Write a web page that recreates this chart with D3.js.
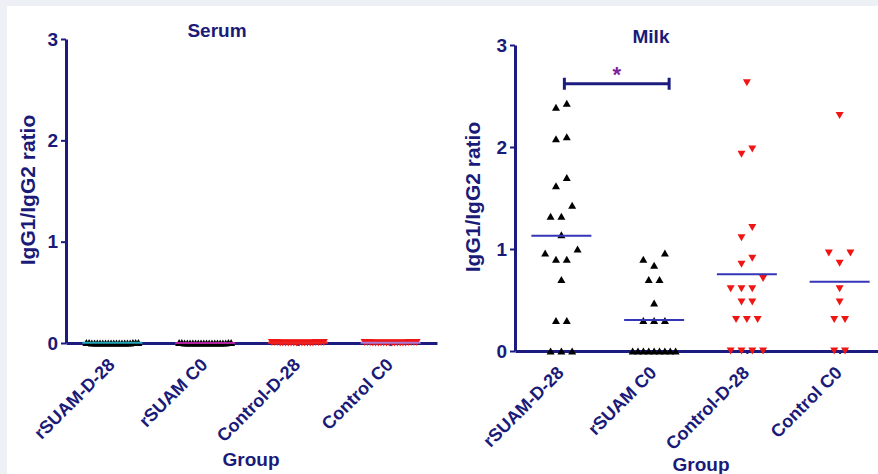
<!DOCTYPE html>
<html>
<head>
<meta charset="utf-8">
<script src="https://cdn.jsdelivr.net/npm/d3@7"></script>
<style>
body { margin: 0; background: #edf0f5; }
text { font-family: "Liberation Sans", Arial, sans-serif; font-weight: bold; fill: #1a1a78; }
</style>
</head>
<body>
<div id="Chart"></div>
<script>
var w = 878;
var h = 474;

var groups = ["rSUAM-D-28", "rSUAM C0", "Control-D-28", "Control C0"];
var yTicks = [0, 1, 2, 3];

// milk IgG1/IgG2 ratios
var milkRsuamD28 = [2.43, 2.39, 2.10, 2.08, 1.70, 1.62, 1.43, 1.32, 1.32, 1.14, 1.00, 0.96, 0.90, 0.90, 0.70, 0.30, 0.30, 0, 0, 0];
var milkRsuamC0 = [0.96, 0.90, 0.84, 0.70, 0.70, 0.47, 0.30, 0.30, 0.30, 0, 0, 0, 0, 0, 0, 0, 0, 0];
var milkControlD28 = [2.63, 1.98, 1.93, 1.21, 1.11, 0.91, 0.85, 0.71, 0.61, 0.61, 0.61, 0.48, 0.48, 0.31, 0.31, 0.31, 0, 0, 0, 0];
var milkControlC0 = [2.31, 0.96, 0.96, 0.86, 0.61, 0.48, 0.31, 0.31, 0, 0];

// serum ratios are all close to zero
var serumRsuamD28 = [0, 0, 0.005, 0, 0, 0.005, 0, 0, 0, 0.005, 0, 0, 0, 0.005, 0, 0, 0, 0, 0.005, 0];
var serumRsuamC0 = [0, 0.005, 0, 0, 0, 0, 0.005, 0, 0, 0, 0.005, 0, 0, 0, 0, 0.005, 0, 0, 0, 0];
var serumControlD28 = [0.005, 0, 0, 0.005, 0, 0, 0.005, 0, 0, 0.005, 0, 0, 0.005, 0, 0, 0.005, 0, 0, 0.005, 0];
var serumControlC0 = [0, 0.005, 0, 0, 0.005, 0, 0, 0.005, 0, 0, 0.005, 0, 0, 0.005, 0, 0, 0.005, 0, 0, 0.005];

var sigPair = ["rSUAM-D-28", "rSUAM C0"];
var sigLevel = 2.62;
var sigLabel = "*";

var navy = "#1c1c80";
var markColors = ["#000000", "#000000", "#f01515", "#f01515"];
var pointDown = [false, false, true, true];

var panels = [
    {title: "Serum", data: [serumRsuamD28, serumRsuamC0, serumControlD28, serumControlC0],
     meanColors: ["#22a9bb", "#b0209f", "#ee2222", "#a67ad6"],
     px: 7, py: 6, left: 66, right: 437, bottom: 343, top: 39,
     swarmWidth: 52, titleX: 217, titleY: 37, yLabelX: 35, groupX: 251, groupY: 466},
    {title: "Milk", data: [milkRsuamD28, milkRsuamC0, milkControlD28, milkControlC0],
     meanColors: ["#3535b8", "#3535b8", "#3535b8", "#3535b8"],
     px: 451, py: 11, left: 515, right: 886, bottom: 351, top: 45,
     swarmWidth: 43, titleX: 651, titleY: 43, yLabelX: 480, groupX: 701, groupY: 471, sig: true}
];

// triangle centred on its bounding box, like the prism symbols
var boxTriangle = {
    draw: function(context, size) {
        var tw = Math.sqrt(size / 0.4375);
        var th = tw * 0.875;
        context.moveTo(0, -th / 2);
        context.lineTo(tw / 2, th / 2);
        context.lineTo(-tw / 2, th / 2);
        context.closePath();
    }
};

// column scatter layout: points that sit close together share a row
function swarm(values, y, step, maxWidth)
{
    var pts = values.map(function(v){ return {v: v, py: y(v)}; })
        .sort(function(a, b){ return a.py - b.py; });
    var rows = [], cur = [];
    pts.forEach(function(p){
        if (cur.length && p.py - cur[cur.length - 1].py >= 11.5) { rows.push(cur); cur = []; }
        cur.push(p);
    });
    if (cur.length) rows.push(cur);

    rows.forEach(function(row){
        var n = row.length;
        var s = n > 1 ? Math.min(step, maxWidth / (n - 1)) : 0;
        var slots = d3.range(n).map(function(i){ return (i - (n - 1) / 2) * s; });
        slots.sort(function(a, b){ return Math.abs(b) - Math.abs(a) || b - a; });
        row.sort(function(a, b){ return b.v - a.v; });
        row.forEach(function(p, i){ p.dx = slots[i]; });
    });
    return pts;
}

function drawPanel(svg, p)
{
    svg.append("rect")
        .attr("x", p.px).attr("y", p.py)
        .attr("width", w - p.px + 10).attr("height", h)
        .attr("fill", "#ffffff");

    var g = svg.append("g");

    var x = d3.scalePoint().domain(groups).range([p.left, p.right]).padding(0.5);
    var y = d3.scaleLinear().domain([0, 3]).range([p.bottom, p.top]);

    // y axis
    var yAxis = g.append("g")
        .attr("transform", "translate(" + p.left + ",0)")
        .call(d3.axisLeft(y).tickValues(yTicks).tickFormat(d3.format("d"))
            .tickSize(5).tickSizeOuter(0).tickPadding(3));
    yAxis.select(".domain").attr("stroke", navy).attr("stroke-width", 3);
    yAxis.selectAll(".tick line").attr("stroke", navy).attr("stroke-width", 2);
    yAxis.selectAll(".tick text")
        .attr("font-size", 19).attr("fill", navy)
        .style("font-family", "'Liberation Sans', Arial, sans-serif").style("font-weight", "bold");

    // x axis
    var xAxis = g.append("g")
        .attr("transform", "translate(0," + p.bottom + ")")
        .call(d3.axisBottom(x).tickSize(3).tickSizeOuter(0).tickFormat(""));
    xAxis.select(".domain").attr("stroke", navy).attr("stroke-width", 3);
    xAxis.selectAll(".tick line").attr("stroke", navy).attr("stroke-width", 2);
    xAxis.selectAll(".tick").append("text")
        .attr("transform", "translate(3,23) rotate(-45)")
        .attr("text-anchor", "end")
        .attr("font-size", 18)
        .text(function(d){ return d; });

    // points
    var tri = d3.symbol().type(boxTriangle).size(28);
    groups.forEach(function(name, i){
        var cx = x(name);
        var pts = swarm(p.data[i], y, 10.8, p.swarmWidth);
        g.append("g").selectAll("path")
            .data(pts)
            .enter()
            .append("path")
            .attr("d", tri)
            .attr("fill", markColors[i])
            .attr("transform", function(d){
                return "translate(" + (cx + d.dx) + "," + d.py + ")" + (pointDown[i] ? " rotate(180)" : "");
            });

        var m = d3.mean(p.data[i]);
        g.append("line")
            .attr("x1", cx - 30).attr("x2", cx + 30)
            .attr("y1", y(m)).attr("y2", y(m))
            .attr("stroke", p.meanColors[i])
            .attr("stroke-width", 2);
    });

    // titles
    g.append("text")
        .attr("x", p.titleX).attr("y", p.titleY)
        .attr("text-anchor", "middle").attr("font-size", 19)
        .text(p.title);
    g.append("text")
        .attr("transform", "translate(" + p.yLabelX + "," + ((p.top + p.bottom) / 2 - 1) + ") rotate(-90)")
        .attr("text-anchor", "middle").attr("font-size", 21)
        .text("IgG1/IgG2 ratio");
    g.append("text")
        .attr("x", p.groupX).attr("y", p.groupY)
        .attr("text-anchor", "middle").attr("font-size", 19)
        .text("Group");

    if (p.sig) {
        var x1 = x(sigPair[0]) + 3;
        var x2 = x(sigPair[1]) + 15;
        var sy = y(sigLevel);
        var br = g.append("g").attr("stroke", navy).attr("stroke-width", 3);
        br.append("line").attr("x1", x1).attr("x2", x2).attr("y1", sy).attr("y2", sy);
        br.append("line").attr("x1", x1).attr("x2", x1).attr("y1", sy - 6).attr("y2", sy + 6);
        br.append("line").attr("x1", x2).attr("x2", x2).attr("y1", sy - 6).attr("y2", sy + 6);
        g.append("text")
            .attr("x", (x1 + x2) / 2).attr("y", sy - 2)
            .attr("text-anchor", "middle").attr("font-size", 22)
            .style("fill", "#7d1f9e")
            .text(sigLabel);
    }
}

function doChart()
{
    var svg = d3.select("#Chart").append("svg")
        .attr("width", w)
        .attr("height", h);

    panels.forEach(function(p){ drawPanel(svg, p); });
}

doChart();
</script>
</body>
</html>
